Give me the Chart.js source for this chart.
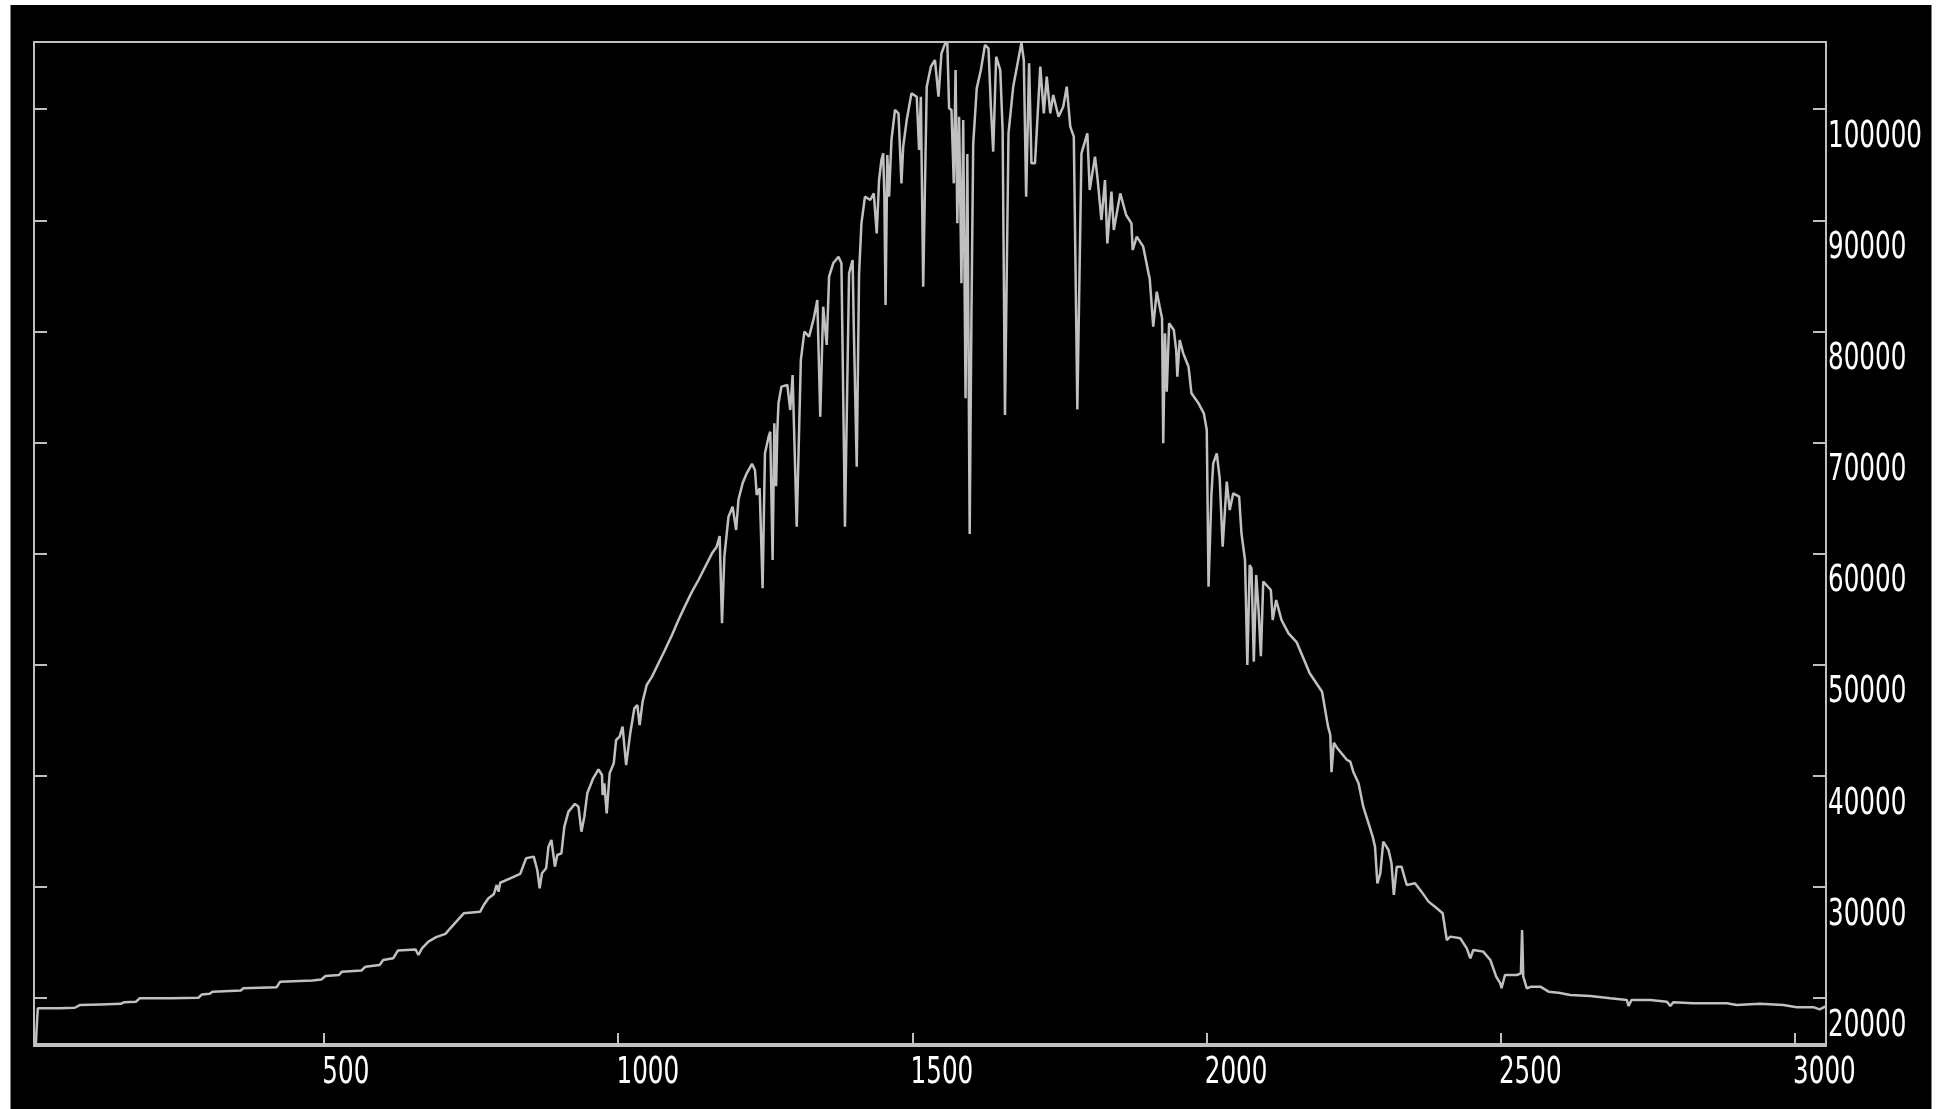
<!DOCTYPE html>
<html>
<head>
<meta charset="utf-8">
<title>Spectrum</title>
<script src="https://cdn.jsdelivr.net/npm/chart.js@4.4.1/dist/chart.umd.min.js"></script>
<style>
    html, body { margin: 0; padding: 0; background: #ffffff; overflow: hidden; }
    canvas { display: block; }
</style>
</head>
<body>
<canvas id="spectrumChart" width="1937" height="1109"></canvas>
<script>
// Channel positions (x)
const channels = [
    8, 11, 13, 50, 76, 85, 120, 154, 160, 180, 186, 240, 286, 292, 305, 310, 358, 362, 419, 425,
    480, 495, 502, 525, 530, 563, 570, 594, 600, 617, 625, 655, 660, 666, 677, 690, 706,
    714, 737, 765, 771, 779, 788, 793, 796, 799, 816, 833, 843, 856, 862, 866, 870, 877, 881,
    886, 892, 896, 903, 908, 915, 926, 932, 937, 942, 947, 957, 966, 972, 973, 976, 980, 985,
    992, 996, 1002, 1007, 1013, 1020, 1027, 1032, 1036, 1041, 1048, 1057, 1068, 1079, 1091,
    1102, 1113, 1125, 1136, 1147, 1159, 1167, 1172, 1176, 1180, 1187, 1194, 1200, 1204, 1211,
    1218, 1227, 1232, 1235, 1240, 1245, 1249, 1255, 1258, 1262, 1265, 1268, 1270,
    1272, 1277, 1287, 1292, 1296, 1303, 1310, 1316, 1324, 1332, 1338, 1343, 1348, 1354, 1358,
    1365, 1374, 1379, 1385, 1392, 1398, 1400, 1405, 1409, 1413,
    1419, 1428, 1434, 1439, 1443, 1447, 1450, 1452, 1454, 1457, 1460, 1464, 1470, 1476, 1481,
    1484, 1490, 1498, 1507, 1511, 1514, 1518, 1524, 1531, 1538, 1544, 1549, 1555, 1559, 1562,
    1566, 1570, 1573, 1576, 1579, 1583, 1586, 1590, 1593, 1597, 1600, 1603, 1609, 1616, 1623,
    1629, 1633, 1637, 1642, 1649, 1653, 1657, 1663, 1671, 1680, 1685, 1689, 1693, 1698, 1702,
    1708, 1717, 1723, 1728, 1734, 1739, 1748, 1756, 1762, 1768, 1774, 1780, 1787, 1797, 1801,
    1810, 1814, 1821, 1827, 1831, 1838, 1842, 1853, 1863, 1872, 1874, 1881, 1892, 1901,
    1903, 1909, 1915, 1920, 1924, 1926, 1929, 1932, 1936, 1944, 1948, 1950, 1954, 1960, 1969,
    1974, 1986, 1995, 2000, 2003, 2008, 2011, 2017, 2022, 2027, 2034, 2039, 2045, 2055, 2059,
    2065, 2069, 2073, 2076, 2080, 2084, 2088, 2092, 2096, 2109, 2112, 2118, 2127, 2139,
    2153, 2175, 2196, 2206, 2210, 2212, 2216, 2221, 2238,
    2244, 2249, 2258, 2266, 2275, 2282, 2286, 2290, 2295, 2300, 2309, 2314, 2318, 2323, 2331,
    2340, 2354, 2365, 2377, 2391, 2401, 2408, 2414, 2431, 2442, 2448, 2453, 2470, 2482, 2492,
    2499, 2501, 2507, 2527, 2534, 2536, 2538, 2544, 2552, 2567, 2581, 2598, 2618, 2652, 2686,
    2714, 2717, 2722, 2754, 2782, 2788, 2793, 2827, 2884, 2901, 2940, 2980, 3003, 3031, 3042,
    3051, 3055
];

// Counts (y) for each channel
const counts = [
    14000, 17300, 19100, 19100, 19150, 19400, 19450, 19500, 19650, 19700, 20000, 20000, 20050, 20350, 20400, 20600, 20700, 20900, 21000, 21500,
    21600, 21700, 22000, 22100, 22400, 22500, 22850, 23000, 23450, 23600, 24300, 24400, 23900, 24500, 25100, 25500, 25800,
    26300, 27650, 27800, 28400, 29000, 29360, 30200, 29600, 30400, 30800, 31200, 32600, 32750, 31550, 29900, 31250, 31700, 33650,
    34250, 31850, 32900, 33050, 35450, 36800, 37500, 37250, 35000, 36350, 38450, 39800, 40600, 40100, 38300, 39350, 36650, 40250,
    41150, 43250, 43550, 44450, 41000, 43850, 46100, 46400, 44600, 46700, 48200, 48950, 50150, 51350, 52700,
    54050, 55300, 56600, 57650, 58800, 60050, 60650, 61600, 53750, 59750, 63350, 64250, 62150, 64900, 66350,
    67250, 68100, 67550, 65300, 65900, 56900, 69050, 70500, 71000, 59450, 71750, 66100, 71000,
    73550, 75050, 75200, 72950, 76100, 62450, 77450, 80000, 79550, 81200, 82850, 72350, 82250, 78800, 84950,
    86150, 86750, 86150, 62450, 85250, 86450, 80450, 67850, 85250, 89750,
    92150, 91850, 92450, 88850, 93650, 95450, 96050, 92150, 82400, 95900, 92150, 97250, 99950, 99650, 93350,
    96650, 99050, 101450, 101150, 96350, 101150, 84050, 102050, 103850, 104450, 101150, 105050, 105900, 106000, 100100,
    99950, 93350, 103550, 89750, 99350, 84350, 99050, 74000, 96000, 61800, 81650, 96900, 101900, 103550, 105800,
    105500, 100250, 96200, 104750, 103550, 98150, 72500, 97850, 102050, 104600, 106000, 104450, 92150, 104150, 95150,
    95150, 103850, 99650, 102950, 99650, 101300, 99350, 100250, 102050, 98450, 97550, 73000, 96050, 97850, 92750,
    95750, 93950, 90050, 93650, 87950, 92600, 89150, 92450, 90500, 89750, 87350, 88550, 87650, 85250,
    84800, 80450, 83600, 82250, 81200, 69950, 79850, 74600, 80750, 80150, 78350, 75950, 79250, 78050, 76850,
    74450, 73550, 72650, 71150, 57050, 65450, 68150, 69050, 66800, 60650, 66500, 63950, 65450, 65150, 61850,
    59450, 50000, 59000, 58700, 50300, 58100, 55000, 50800, 57500, 56750, 54050, 55850, 54050, 52850,
    52030, 49250, 47590, 44500, 43700, 40360, 43000, 42580, 41470,
    41300, 40400, 39350, 37250, 35750, 34550, 33650, 30350, 31250, 34100, 33350, 32150, 29300, 31850, 31850,
    30200, 30350, 29600, 28700, 28100, 27650, 25250, 25550, 25400, 24500, 23600, 24350, 24200, 23450, 21950,
    21350, 20900, 22100, 22100, 22250, 26150, 21950, 20900, 21050, 21050, 20600, 20500, 20300, 20200, 20000,
    19850, 19300, 19850, 19850, 19700, 19300, 19650, 19550, 19550, 19400, 19500, 19400, 19200, 19200, 19000,
    19250, 19250
];

// Axis ticks
const xTickValues = [500, 1000, 1500, 2000, 2500, 3000];
const yTickValues = [20000, 30000, 40000, 50000, 60000, 70000, 80000, 90000, 100000];

const frameColor = '#c0c0c0';
const textColor = '#ffffff';
const labelFont = "37px 'DejaVu Sans Condensed', 'DejaVu Sans', sans-serif";
const labelSqueeze = 0.74;

// Background: white margin with black panel
const backgroundPlugin = {
    id: 'background',
    beforeDraw(chart) {
        const ctx = chart.ctx;
        ctx.save();
        ctx.fillStyle = '#ffffff';
        ctx.fillRect(0, 0, chart.width, chart.height);
        ctx.fillStyle = '#000000';
        ctx.fillRect(10, 5, 1921, chart.height - 5);
        ctx.fillStyle = '#808080';
        ctx.fillRect(10, 5, 1, chart.height - 5);
        ctx.fillRect(1931, 5, 1, chart.height - 5);
        ctx.restore();
    }
};

// Draw one narrow tick label, left aligned, baseline at y
function drawLabel(ctx, text, x, y) {
    ctx.save();
    ctx.translate(x, y);
    ctx.scale(labelSqueeze, 1);
    ctx.fillText(text, 0, 0);
    ctx.restore();
}

// Frame around the plot, inward tick marks and tick labels
const framePlugin = {
    id: 'frame',
    afterDatasetsDraw(chart) {
        const ctx = chart.ctx;
        const area = chart.chartArea;
        const xScale = chart.scales.x;
        const yScale = chart.scales.y;
        ctx.save();
        ctx.strokeStyle = frameColor;
        ctx.lineWidth = 2;
        ctx.beginPath();
        ctx.moveTo(area.left, area.bottom);
        ctx.lineTo(area.left, area.top);
        ctx.lineTo(area.right, area.top);
        ctx.lineTo(area.right, area.bottom);
        ctx.stroke();
        ctx.lineWidth = 4;
        ctx.beginPath();
        ctx.moveTo(area.left - 1, area.bottom);
        ctx.lineTo(area.right + 1, area.bottom);
        ctx.stroke();

        ctx.lineWidth = 2;
        ctx.beginPath();
        xScale.ticks.forEach(t => {
            const px = Math.round(xScale.getPixelForValue(t.value));
            ctx.moveTo(px, area.bottom);
            ctx.lineTo(px, area.bottom - 12);
        });
        yScale.ticks.forEach(t => {
            const py = Math.round(yScale.getPixelForValue(t.value));
            ctx.moveTo(area.left, py);
            ctx.lineTo(area.left + 13, py);
            ctx.moveTo(area.right, py);
            ctx.lineTo(area.right - 13, py);
        });
        ctx.stroke();

        // tick labels
        ctx.fillStyle = textColor;
        ctx.font = labelFont;
        ctx.textAlign = 'left';
        ctx.textBaseline = 'alphabetic';
        xScale.ticks.forEach(t => {
            const px = xScale.getPixelForValue(t.value);
            drawLabel(ctx, String(t.value), px - 2, area.bottom + 38);
        });
        yScale.ticks.forEach(t => {
            const py = yScale.getPixelForValue(t.value);
            drawLabel(ctx, String(t.value), area.right + 2, py + 37.5);
        });
        ctx.restore();
    }
};

const points = channels.map((c, i) => ({ x: c, y: counts[i] }));

const ctx = document.getElementById('spectrumChart').getContext('2d');
new Chart(ctx, {
    type: 'line',
    data: {
        datasets: [{
            data: points,
            borderColor: frameColor,
            borderWidth: 2.5,
            borderJoinStyle: 'bevel',
            pointRadius: 0,
            tension: 0,
            fill: false
        }]
    },
    options: {
        responsive: false,
        animation: false,
        devicePixelRatio: 1,
        events: [],
        layout: {
            padding: { left: 34, top: 42, right: 0, bottom: 0 }
        },
        plugins: {
            legend: { display: false },
            tooltip: { enabled: false }
        },
        scales: {
            x: {
                type: 'linear',
                position: 'bottom',
                min: 6.5,
                max: 3052.6,
                afterBuildTicks: scale => {
                    scale.ticks = xTickValues.map(v => ({ value: v }));
                },
                afterFit: scale => { scale.height = 64; },
                grid: { display: false, drawTicks: false },
                border: { display: false },
                ticks: { display: false }
            },
            y: {
                type: 'linear',
                position: 'right',
                min: 15797,
                max: 106072,
                afterBuildTicks: scale => {
                    scale.ticks = yTickValues.map(v => ({ value: v }));
                },
                afterFit: scale => { scale.width = 111; },
                grid: { display: false, drawTicks: false },
                border: { display: false },
                ticks: { display: false }
            }
        }
    },
    plugins: [backgroundPlugin, framePlugin]
});
</script>
</body>
</html>
